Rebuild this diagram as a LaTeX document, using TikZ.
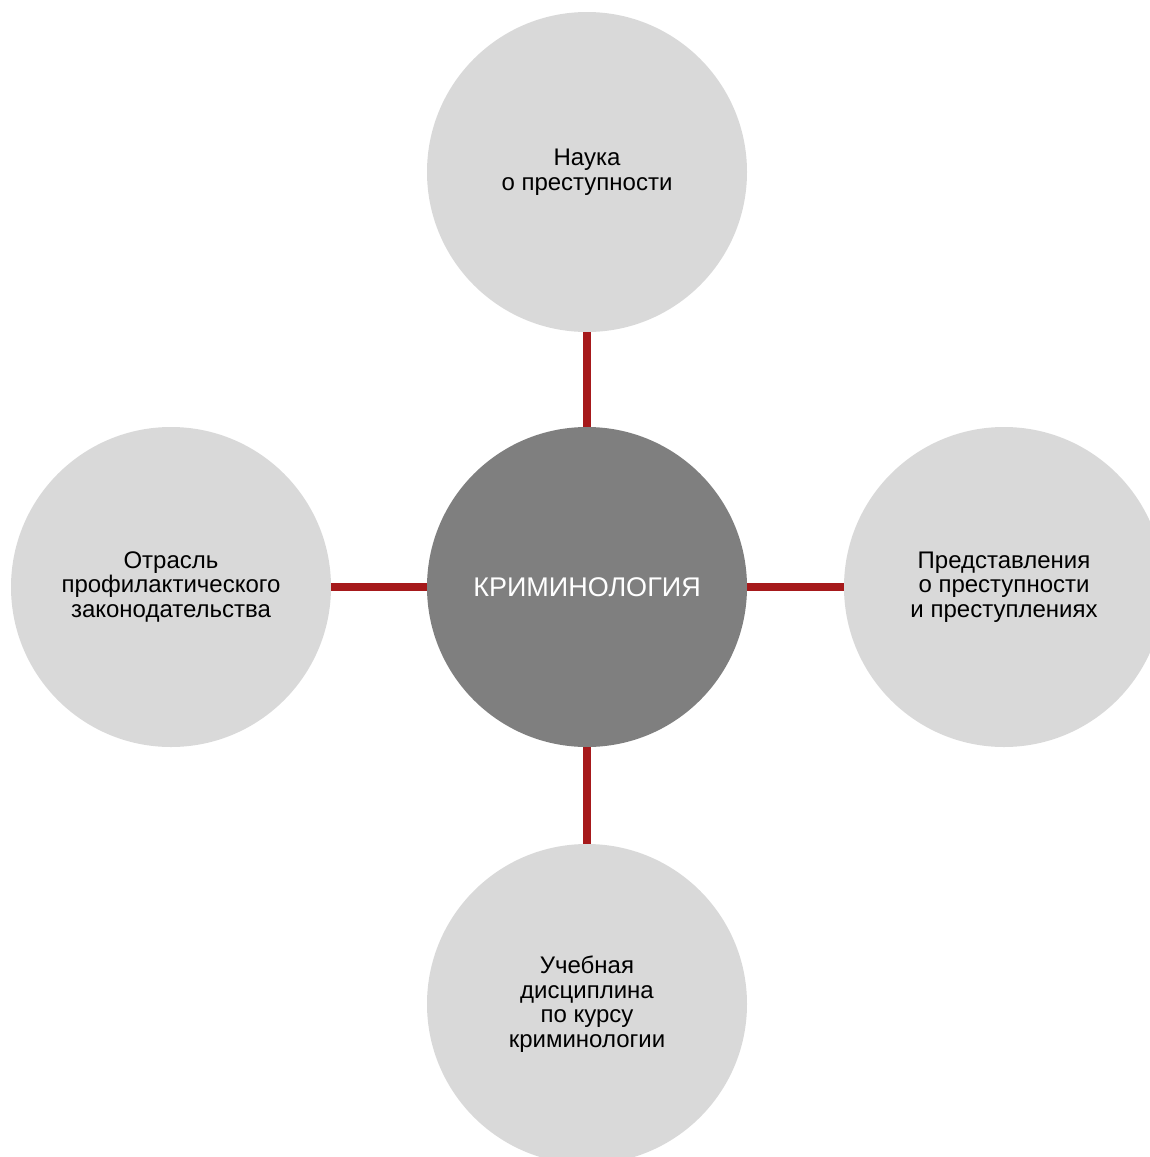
\documentclass[tikz,border=0pt]{standalone}
\usepackage{fontspec}
\setmainfont{Liberation Sans}
\definecolor{outerfill}{HTML}{D9D9D9}
\definecolor{centerfill}{HTML}{7F7F7F}
\definecolor{linkred}{HTML}{A6191B}
\begin{document}
\begin{tikzpicture}[x=1pt,y=-1pt,
  bubble/.style={circle,fill=outerfill,minimum size=320pt,inner sep=0pt,align=center,
    font=\fontsize{24pt}{24.5pt}\selectfont,text=black},
  hub/.style={circle,fill=centerfill,minimum size=320pt,inner sep=0pt,align=center,
    font=\fontsize{27pt}{30pt}\selectfont,text=white},
  link/.style={draw=linkred,line width=7.5pt}]
\useasboundingbox (0,0) rectangle (1150,1157);
\clip (0,0) rectangle (1150,1157);
\node[hub] (c) at (587,587) {КРИМИНОЛОГИЯ};
\node[bubble] (t) at (587,172) {Наука\\о преступности};
\node[bubble] (l) at (171,587) {Отрасль\\профилактического\\законодательства};
\node[bubble] (r) at (1004,587) {Представления\\о преступности\\и преступлениях};
\node[bubble] (b) at (587,1004) {Учебная\\дисциплина\\по курсу\\криминологии};
\draw[link] (c) -- (t);
\draw[link] (c) -- (l);
\draw[link] (c) -- (r);
\draw[link] (c) -- (b);
\end{tikzpicture}
\end{document}
